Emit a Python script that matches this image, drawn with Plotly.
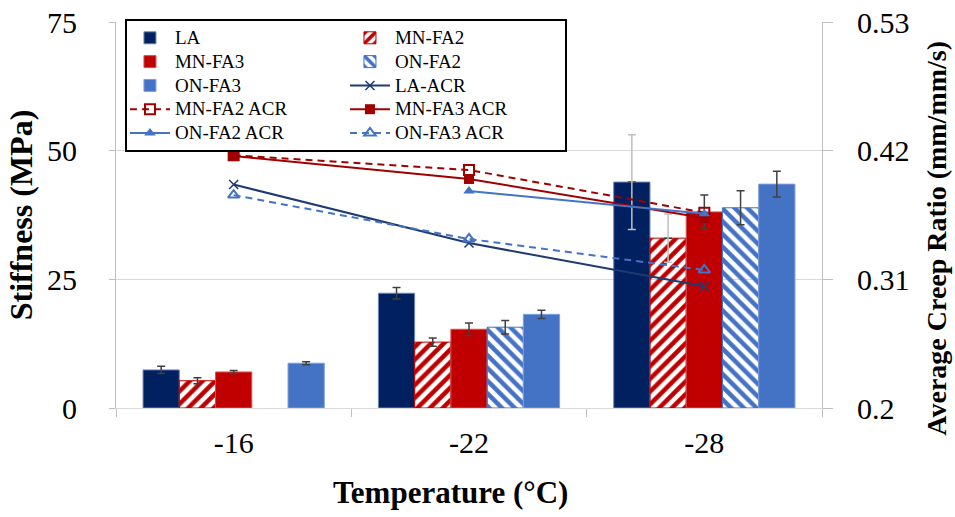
import plotly.graph_objects as go

# ---------------- data ----------------
temps = ["-16", "-22", "-28"]

la = [7.4, 22.3, 43.9]
la_err = [0.7, 1.1, 9.2]
mnfa2 = [5.3, 12.8, 33.0]
mnfa2_err = [0.6, 0.8, 4.7]
mnfa3 = [7.0, 15.3, 38.1]
mnfa3_err = [0.3, 1.2, 3.3]
onfa2 = [None, 15.7, 38.9]
onfa2_err = [None, 1.3, 3.3]
onfa3 = [8.7, 18.2, 43.5]
onfa3_err = [0.3, 0.8, 2.5]

# error bars drawn in light grey in the original (per temperature)
light_err_la = [False, False, True]
light_err_mnfa2 = [False, False, True]

la_acr = [0.391, 0.341, 0.304]
mnfa2_acr = [0.416, 0.4035, 0.367]
mnfa3_acr = [0.4154, 0.3958, 0.3624]
onfa2_acr = [None, 0.3855, 0.366]
onfa3_acr = [0.382, 0.3445, 0.318]

y1_ticks = [0, 25, 50, 75]
y2_ticks = [0.2, 0.31, 0.42, 0.53]
y2_ticktext = ["0.2", "0.31", "0.42", "0.53"]

# ---------------- style ----------------
FONT = "Liberation Serif, Times New Roman, serif"
NAVY = "#002060"
RED = "#C00000"
BLUE = "#4472C4"
DARKRED = "#A00000"
LINENAVY = "#1F3A70"
ERR = "#404040"
LIGHTERR = "#BFBFBF"
GRID = "#D9D9D9"
AXIS = "#BFBFBF"


def sel(vals, mask, keep):
    return [v if (m == keep) else None for v, m in zip(vals, mask)]


def lname(s):
    return '<span style="font-size:19px">' + s + "</span>"


def err(arr, color=ERR):
    return dict(type="data", array=arr, color=color, thickness=1.5, width=4, visible=True)


fig = go.Figure()

fig.add_trace(go.Bar(name=lname("LA"), x=temps, y=la, offsetgroup="g1", legendgroup="c1",
                     marker=dict(color=NAVY, line=dict(color="#6F86B5", width=1)),
                     error_y=err(sel(la_err, light_err_la, False))))
fig.add_trace(go.Bar(name=lname("MN-FA2"), x=temps, y=mnfa2, offsetgroup="g2", legendgroup="c2",
                     marker=dict(color=RED, line=dict(color=RED, width=1),
                                 pattern=dict(shape="/", fgcolor=RED, bgcolor="rgba(0,0,0,0)",
                                              size=9, solidity=0.5)),
                     error_y=err(sel(mnfa2_err, light_err_mnfa2, False))))
fig.add_trace(go.Bar(name=lname("MN-FA3"), x=temps, y=mnfa3, offsetgroup="g3", legendgroup="c1",
                     marker=dict(color=RED, line=dict(color="#D65050", width=1)),
                     error_y=err(mnfa3_err)))
fig.add_trace(go.Bar(name=lname("ON-FA2"), x=temps, y=onfa2, offsetgroup="g4", legendgroup="c2",
                     marker=dict(color=BLUE, line=dict(color=BLUE, width=1),
                                 pattern=dict(shape="\\", fgcolor=BLUE, bgcolor="rgba(0,0,0,0)",
                                              size=9, solidity=0.5)),
                     error_y=err(onfa2_err)))
fig.add_trace(go.Bar(name=lname("ON-FA3"), x=temps, y=onfa3, offsetgroup="g5", legendgroup="c1",
                     marker=dict(color=BLUE, line=dict(color="#7F9FD8", width=1)),
                     error_y=err(onfa3_err)))

# light grey error bars (transparent overlay at the same slot)
fig.add_trace(go.Bar(x=temps, y=sel(la, light_err_la, True), offsetgroup="g1", showlegend=False,
                     marker=dict(color="rgba(0,0,0,0)"), hoverinfo="skip",
                     error_y=err(sel(la_err, light_err_la, True), LIGHTERR)))
fig.add_trace(go.Bar(x=temps, y=sel(mnfa2, light_err_mnfa2, True), offsetgroup="g2", showlegend=False,
                     marker=dict(color="rgba(0,0,0,0)"), hoverinfo="skip",
                     error_y=err(sel(mnfa2_err, light_err_mnfa2, True), LIGHTERR)))

# ACR lines (secondary axis)
fig.add_trace(go.Scatter(name=lname("LA-ACR"), x=temps, y=la_acr, yaxis="y2", legendgroup="c2",
                         mode="lines+markers", line=dict(color=LINENAVY, width=2),
                         marker=dict(symbol="x-thin", size=9, line=dict(color=LINENAVY, width=1.5))))
fig.add_trace(go.Scatter(name=lname("MN-FA2 ACR"), x=temps, y=mnfa2_acr, yaxis="y2", legendgroup="c1",
                         mode="lines+markers", line=dict(color=DARKRED, width=2, dash="7px,5px"),
                         marker=dict(symbol="square-open", size=10, line=dict(color=DARKRED, width=2))))
fig.add_trace(go.Scatter(name=lname("MN-FA3 ACR"), x=temps, y=mnfa3_acr, yaxis="y2", legendgroup="c2",
                         mode="lines+markers", line=dict(color=DARKRED, width=2),
                         marker=dict(symbol="square", size=10, color=DARKRED)))
fig.add_trace(go.Scatter(name=lname("ON-FA2 ACR"), x=temps, y=onfa2_acr, yaxis="y2", legendgroup="c1",
                         mode="lines+markers", line=dict(color=BLUE, width=2),
                         marker=dict(symbol="triangle-up", size=10, color=BLUE)))
fig.add_trace(go.Scatter(name=lname("ON-FA3 ACR"), x=temps, y=onfa3_acr, yaxis="y2", legendgroup="c2",
                         mode="lines+markers", line=dict(color=BLUE, width=2, dash="7px,5px"),
                         marker=dict(symbol="triangle-up-open", size=10, line=dict(color=BLUE, width=2))))

fig.update_layout(
    template="none",
    width=955, height=517,
    margin=dict(l=116, r=133, t=22, b=109, pad=0, autoexpand=False),
    paper_bgcolor="white", plot_bgcolor="white",
    font=dict(family=FONT, color="black"),
    barmode="group", bargap=0.23, bargroupgap=0,
    showlegend=True,
    legend=dict(orientation="h", traceorder="grouped", x=0.0127, y=1.008,
                xanchor="left", yanchor="top", bgcolor="white", bordercolor="black",
                borderwidth=2, font=dict(family=FONT, size=16, color="black"),
                tracegroupgap=0, itemwidth=40, entrywidth=165, entrywidthmode="pixels"),
    xaxis=dict(type="category", tickson="boundaries", ticks="outside", ticklen=8,
               tickcolor=AXIS, showgrid=False, showline=True, linecolor=GRID, automargin=False,
               tickfont=dict(family=FONT, size=30, color="black"), ticklabelstandoff=8),
    yaxis=dict(range=[0, 75], tickvals=y1_ticks, showgrid=True, gridcolor=GRID, gridwidth=1,
               showline=True, linecolor=AXIS, ticks="outside", ticklen=6, tickcolor=AXIS,
               zeroline=False, automargin=False,
               tickfont=dict(family=FONT, size=30, color="black"), ticklabelstandoff=26,
               title=dict(text="<b>Stiffness (MPa)</b>",
                          font=dict(family=FONT, size=32, color="black"), standoff=4)),
    yaxis2=dict(overlaying="y", side="right", range=[0.2, 0.53], tickvals=y2_ticks,
                ticktext=y2_ticktext, showgrid=False, showline=True, linecolor=AXIS,
                ticks="outside", ticklen=10, tickcolor=AXIS, zeroline=False, automargin=False,
                tickfont=dict(family=FONT, size=30, color="black"), ticklabelstandoff=18),
    annotations=[
        dict(text="<b>Temperature (°C)</b>", xref="paper", yref="paper",
             x=0.4745, y=-0.2202, xanchor="center", yanchor="middle", showarrow=False,
             font=dict(family=FONT, size=31, color="black")),
        dict(text="<b>Average Creep Ratio (mm/mm/s)</b>", xref="paper", yref="paper",
             x=1.161, y=0.4404, xanchor="center", yanchor="middle", showarrow=False,
             textangle=-90, font=dict(family=FONT, size=28, color="black")),
    ],
)

fig.write_html("out.html")
